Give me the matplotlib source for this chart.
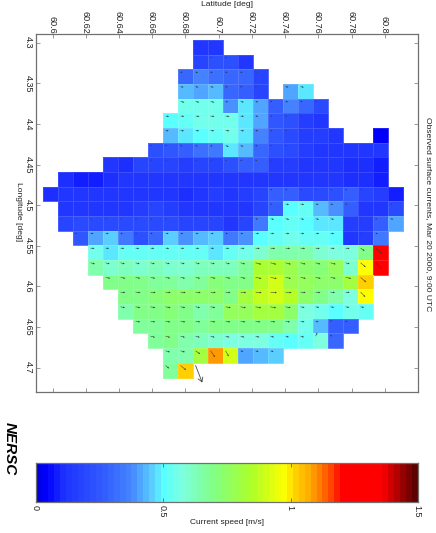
import numpy as np
import matplotlib
matplotlib.use("Agg")
import matplotlib.pyplot as plt
from matplotlib.colors import LinearSegmentedColormap
from matplotlib.transforms import ScaledTranslation

plt.rcParams['font.family'] = ['Liberation Sans', 'DejaVu Sans']

# speed per row of the grid: (first column, values)
row_start = [10, 10, 9, 9, 9, 8, 8, 7, 4, 1, 0, 1, 1, 2, 3, 3, 4, 5, 5, 6, 7, 8, 8]
row_speed = [
    [.13, .12],
    [.17, .23, .22, .12],
    [.30, .36, .32, .30, .30, .18],
    [.43, .40, .43, .30, .27, .18, np.nan, .42, .47],
    [.56, .54, .56, .38, .47, .40, .27, .37, .30, .20],
    [.51, .52, .56, .56, .56, .48, .40, .25, .22, .16, .14],
    [.44, .49, .50, .52, .54, .49, .37, .25, .20, .16, .15, .13, np.nan, np.nan, .03],
    [.22, .24, .27, .32, .33, .49, .44, .30, .22, .20, .15, .14, .13, .13, .12, .12],
    [.12, .11, .17, .18, .18, .16, .18, .17, .22, .27, .26, .15, .15, .13, .12, .12, .11, .10, .09],
    [.10, .08, .09, .11, .12, .14, .13, .14, .12, .14, .14, .14, .14, .14, .14, .13, .12, .12, .12, .11, .11, .08],
    [.10, .14, .13, .12, .13, .13, .13, .14, .12, .10, .13, .15, .13, .15, .17, .28, .28, .19, .20, .22, .26, .18, .16, .08],
    [.13, .13, .13, .14, .14, .15, .17, .15, .14, .14, .14, .14, .14, .17, .26, .50, .52, .44, .39, .27, .14, .14, .20],
    [.17, .20, .20, .21, .20, .20, .20, .20, .17, .17, .17, .13, .17, .35, .50, .53, .50, .49, .49, .16, .15, .27, .41],
    [.25, .41, .45, .33, .22, .30, .45, .38, .43, .45, .35, .38, .50, .53, .54, .53, .52, .51, .14, .16, .33],
    [.56, .49, .52, .53, .53, .52, .52, .52, .49, .53, .56, .60, .65, .65, .65, .60, .58, .58, .70, 1.21],
    [.64, .60, .61, .60, .61, .60, .60, .61, .61, .63, .66, .84, .84, .78, .74, .72, .77, .60, .97, 1.22],
    [.68, .70, .68, .66, .66, .65, .66, .71, .68, .70, .86, .90, .78, .75, .74, .73, .82, 1.03],
    [.68, .70, .72, .73, .73, .73, .73, .70, .80, .87, .90, .86, .73, .70, .64, .58, .97],
    [.64, .68, .69, .72, .68, .65, .67, .75, .77, .82, .82, .74, .58, .54, .51, .55, .52],
    [.66, .67, .68, .69, .67, .68, .69, .69, .70, .68, .64, .56, .43, .26, .28],
    [.66, .68, .64, .62, .60, .57, .57, .57, .52, .50, .52, .57, .29],
    [.65, .65, .80, 1.10, .91, .42, .44, .45],
    [.66, 1.02],
]
# arrow direction per row, degrees below east on the page
row_angle = [30, 25, 20, 10, 15, 5, 0, 25, 25, 5, 20, 5, 10, 0, 5, 15, 10, 5, 10, 5, 15, 15, 40]
# cells whose arrow differs from its row: (row, column, angle)
odd_angles = [(14, 21, 35), (14, 22, 42), (15, 21, 40), (15, 22, 42), (16, 21, 40), (17, 21, 45),
              (19, 19, -50), (20, 18, -65), (20, 19, -50), (21, 10, 35), (21, 11, 55), (21, 12, 60)]
# the long arrow over the cell with no colour, its extent in degrees
big_row, big_col, big_dlat, big_dlon = 22, 10, 0.004, 0.021

lat_ticks = [60.6, 60.62, 60.64, 60.66, 60.68, 60.7, 60.72, 60.74, 60.76, 60.78, 60.8]
lon_ticks = [4.3, 4.35, 4.4, 4.45, 4.5, 4.55, 4.6, 4.65, 4.7]
cbar_ticks = [0, 0.5, 1, 1.5]
cmap_stops = [(0.0, (0, 0, 225)), (0.03, (0, 0, 255)), (0.1, (30, 50, 255)), (0.25, (50, 90, 255)),
              (0.37, (70, 135, 255)), (0.45, (90, 205, 255)), (0.5, (90, 255, 255)), (0.57, (125, 255, 225)),
              (0.7, (130, 255, 130)), (0.85, (175, 255, 40)), (0.98, (255, 255, 0)), (1.02, (255, 210, 0)),
              (1.08, (255, 170, 0)), (1.16, (255, 80, 0)), (1.21, (255, 0, 0)), (1.37, (255, 0, 0)),
              (1.42, (190, 0, 0)), (1.5, (95, 0, 0))]

n_rows, n_cols = 23, 24
grid = np.full((n_rows, n_cols), np.nan)
for r in range(n_rows):
    grid[r, row_start[r]:row_start[r] + len(row_speed[r])] = row_speed[r]
angle = np.zeros_like(grid)
for r in range(n_rows):
    angle[r, :] = row_angle[r]
for r, c, a in odd_angles:
    angle[r, c] = a

vmax = cbar_ticks[-1]
cmap = LinearSegmentedColormap.from_list(
    'speed', [(v / vmax, tuple(x / 255 for x in col)) for v, col in cmap_stops], N=64)

# the arrows sit on the nodes, near the top left corner of each cell
lat_nodes = 60.5958 + 0.00903 * np.arange(n_cols + 1)
lon_nodes = 4.3 + 0.01806 * np.arange(n_rows + 1)
lat_edges = lat_nodes - 0.0015
lon_edges = lon_nodes - 0.0033

W, H = 436, 533
fig = plt.figure(figsize=(W / 100, H / 100), dpi=100)
grey = '#707070'
ink = '#222222'
nudge = ScaledTranslation(-1 / 100, 0, fig.dpi_scale_trans)

def page_axes(x0, y0, x1, y1):
    return fig.add_axes([x0 / W, 1 - y1 / H, (x1 - x0) / W, (y1 - y0) / H])

ax = page_axes(36, 34, 418, 392)
ax.pcolormesh(lat_edges, lon_edges, np.ma.masked_invalid(grid), cmap=cmap, vmin=0, vmax=vmax,
              edgecolors=(1, 1, 1, 0.13), linewidth=0.5)
X, Y = np.meshgrid(lat_nodes[:-1], lon_nodes[:-1])
u = grid * np.cos(np.deg2rad(angle))
v = -grid * np.sin(np.deg2rad(angle))
ax.quiver(X, Y, u, v, angles='uv', scale_units='dots', scale=1 / 7, units='dots', width=0.5,
          headwidth=3.5, headlength=4, headaxislength=3.6, minlength=0.6, color='#333333')
ax.annotate('', xy=(lat_nodes[big_col] + big_dlat, lon_nodes[big_row] + big_dlon),
            xytext=(lat_nodes[big_col], lon_nodes[big_row]),
            arrowprops=dict(arrowstyle='->,head_length=0.3,head_width=0.18', color='#444444', lw=0.6,
                            shrinkA=0, shrinkB=0))

ax.set_xlim(60.59, 60.82)
ax.set_ylim(4.7299, 4.2893)
ax.set_xticks(lat_ticks)
ax.set_xticklabels([f'{t:g}' for t in lat_ticks], rotation=-90, fontsize=6.5, color=ink)
ax.set_yticks(lon_ticks)
ax.set_yticklabels([f'{t:g}' for t in lon_ticks], rotation=-90, va='center', fontsize=6.5, color=ink)
ax.xaxis.tick_top()
ax.tick_params(axis='both', which='major', direction='in', length=3, width=0.7, color='#999999',
               top=True, bottom=True, left=True, right=True)
ax.tick_params(axis='x', pad=0.3)
ax.tick_params(axis='y', pad=2.5)
for label in ax.get_xticklabels():
    label.set_transform(label.get_transform() + nudge)
for s in ax.spines.values():
    s.set_color(grey)
    s.set_linewidth(0.9)

fig.text(227 / W, 1 - 5 / H, 'Latitude [deg]', ha='center', va='center', fontsize=6.1, color=ink)
fig.text(18 / W, 1 - 212 / H, 'Longitude [deg]', ha='center', va='center', rotation=-90, fontsize=6.1, color=ink)
fig.text(428 / W, 1 - 214 / H, 'Observed surface currents, Mar 20 2000, 9:00 UTC', ha='center', va='center',
         rotation=-90, fontsize=6.1, color=ink)
fig.text(10 / W, 1 - 449 / H, 'NERSC', ha='center', va='center', rotation=-90, fontsize=11,
         fontweight='bold', fontstyle='italic', color='black')

cax = page_axes(36, 463, 418, 502)
bar = np.linspace(0, vmax, 64)[None, :]
cax.imshow(bar, aspect='auto', cmap=cmap, vmin=0, vmax=vmax, extent=[0, vmax, 0, 1])
cax.set_yticks([])
cax.set_xticks(cbar_ticks)
cax.set_xticklabels([f'{t:g}' for t in cbar_ticks], rotation=-90, fontsize=6.5, color=ink)
cax.tick_params(axis='x', direction='in', length=3, width=0.7, color=grey, top=True, bottom=True, pad=2.5)
for label in cax.get_xticklabels():
    label.set_transform(label.get_transform() + nudge)
for s in cax.spines.values():
    s.set_color(grey)
    s.set_linewidth(0.9)
fig.text(227 / W, 1 - 523 / H, 'Current speed [m/s]', ha='center', va='center', fontsize=6, color=ink)

fig.savefig('out.png', dpi=100)
